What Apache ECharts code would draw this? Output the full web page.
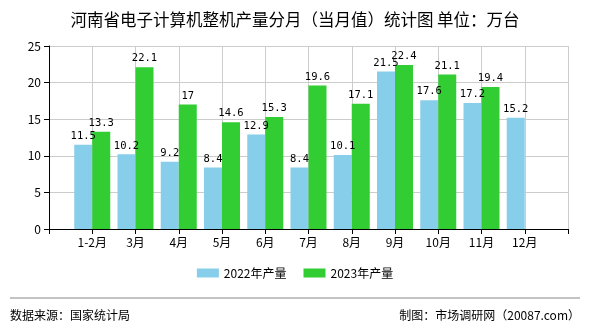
<!DOCTYPE html>
<html>
<head>
<meta charset="utf-8">
<script src="https://cdn.jsdelivr.net/npm/echarts@6/dist/echarts.min.js"></script>
<style>
  html, body { margin: 0; padding: 0; background: #fff; }
  #chart { width: 590px; height: 330px; }
</style>
</head>
<body>
<div id="chart"></div>
<script>
// Monthly output (万台); leading/trailing blanks pad the axis ends
const months = ['', '1-2月', '3月', '4月', '5月', '6月', '7月', '8月', '9月', '10月', '11月', '12月', ''];
const output2022 = [null, 11.5, 10.2, 9.2, 8.4, 12.9, 8.4, 10.1, 21.5, 17.6, 17.2, 15.2, null];
const output2023 = [null, 13.3, 22.1, 17, 14.6, 15.3, 19.6, 17.1, 22.4, 21.1, 19.4, null, null];
const seriesNames = ['2022年产量', '2023年产量'];
const yTicks = { min: 0, max: 25, interval: 5 };

const FONT = "'Noto Sans CJK SC', sans-serif";
const chart = echarts.init(document.getElementById('chart'), null, { renderer: 'canvas' });

const barLabel = {
  show: true,
  position: 'top',
  distance: 3,
  color: '#000',
  fontSize: 10.5,
  fontFamily: "'DejaVu Sans Mono', monospace"
};

chart.setOption({
  animation: false,
  title: {
    text: '河南省电子计算机整机产量分月（当月值）统计图 单位：万台',
    left: 'center',
    top: 6,
    textStyle: { fontSize: 16.5, fontWeight: 'normal', color: '#000', fontFamily: FONT }
  },
  grid: { left: 49, right: 22, top: 46, bottom: 101 },
  legend: {
    bottom: 46,
    left: 'center',
    itemWidth: 22,
    itemHeight: 9,
    itemGap: 17,
    icon: 'rect',
    textStyle: { fontSize: 12, color: '#000', fontFamily: FONT },
    data: seriesNames
  },
  xAxis: {
    type: 'category',
    data: months,
    boundaryGap: false,
    axisLine: { lineStyle: { color: '#000' } },
    axisTick: { show: true, length: 5, lineStyle: { color: '#000' } },
    axisLabel: { color: '#000', fontSize: 12, fontFamily: FONT, margin: 7, interval: 0 },
    splitLine: { show: true, lineStyle: { color: '#cccccc' } }
  },
  yAxis: {
    type: 'value',
    min: yTicks.min,
    max: yTicks.max,
    interval: yTicks.interval,
    axisLine: { show: true, lineStyle: { color: '#000' } },
    axisTick: { show: true, length: 5, lineStyle: { color: '#000' } },
    axisLabel: { color: '#000', fontSize: 12, fontFamily: FONT, margin: 8 },
    splitLine: { show: true, lineStyle: { color: '#cccccc' } }
  },
  series: [
    {
      name: seriesNames[0],
      type: 'bar',
      data: output2022,
      barWidth: 18,
      barGap: 0,
      itemStyle: { color: '#87CEEB' },
      label: barLabel
    },
    {
      name: seriesNames[1],
      type: 'bar',
      data: output2023,
      barWidth: 18,
      barGap: 0,
      itemStyle: { color: '#32CD32' },
      label: barLabel
    }
  ],
  graphic: [
    { type: 'line', shape: { x1: 10, y1: 298, x2: 580, y2: 298 }, style: { stroke: '#888', lineWidth: 1 } },
    { type: 'text', left: 10, top: 309, style: { text: '数据来源：国家统计局', fontSize: 12, fill: '#000', fontFamily: FONT } },
    { type: 'text', right: 10, top: 309, style: { text: '制图：市场调研网（20087.com）', fontSize: 12, fill: '#000', fontFamily: FONT } }
  ]
});
</script>
</body>
</html>
